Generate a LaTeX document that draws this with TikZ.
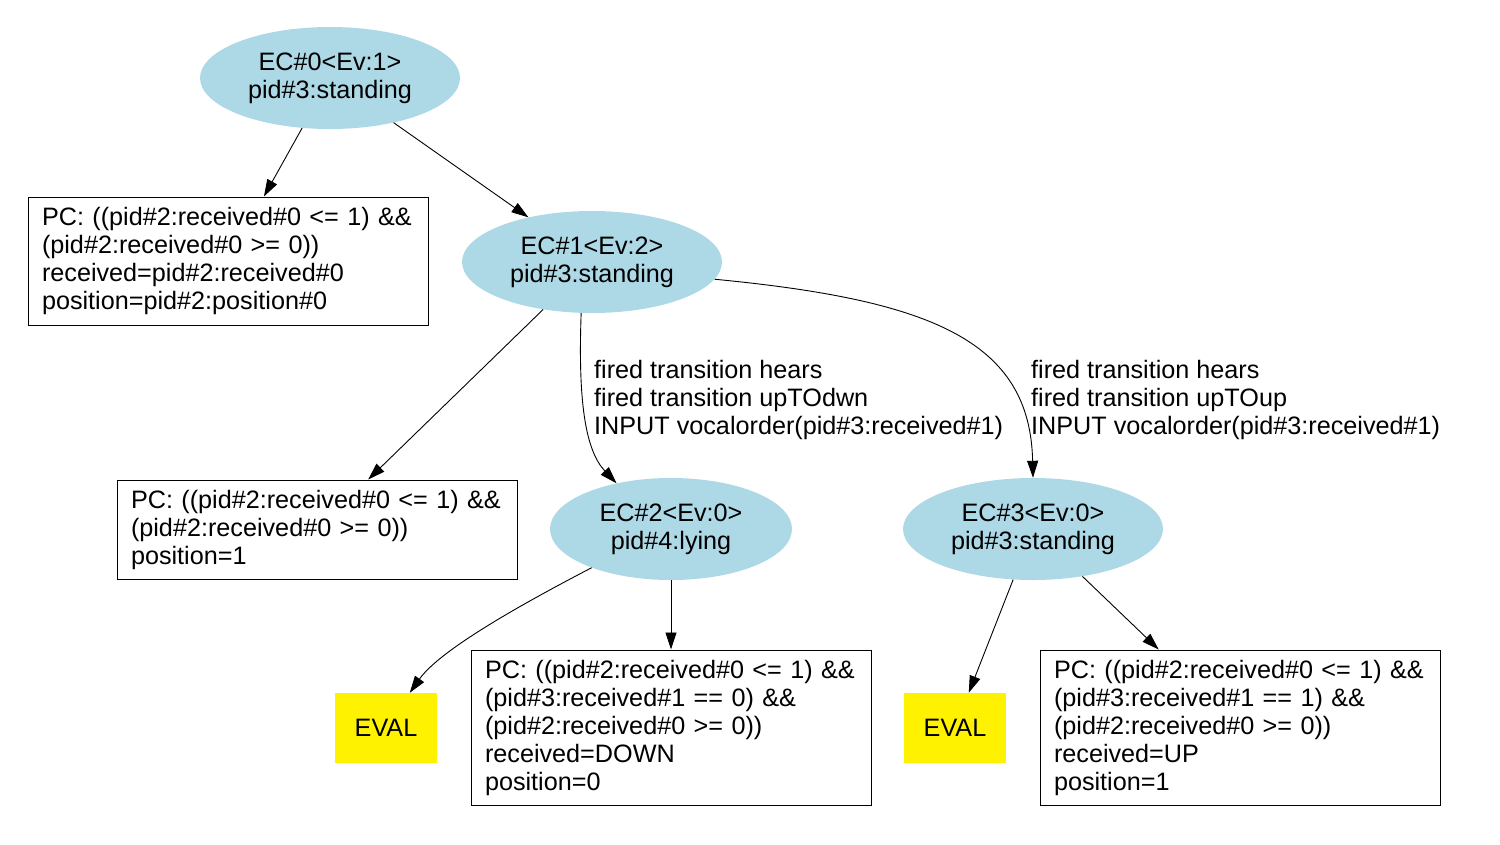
\documentclass[tikz,border=0pt]{standalone}
\usepackage{fontspec}
\setmainfont{Liberation Sans}
\usetikzlibrary{arrows.meta,shapes.geometric,positioning}
\definecolor{ecblue}{HTML}{ADD8E6}

\begin{document}
\begin{tikzpicture}[x=1pt, y=-1pt,
  every node/.style={font=\fontsize{25.2}{28}\selectfont},
  ecnode/.style={ellipse, fill=ecblue, minimum width=260pt, minimum height=102pt, inner sep=0pt, align=center},
  pcbox/.style={draw, line width=1pt, minimum width=400pt, text width=372pt, inner xsep=14pt, align=left},
  evalbox/.style={fill=yellow, minimum width=102pt, minimum height=70pt, inner sep=0pt},
  lbl/.style={anchor=west, inner sep=0pt, align=left},
  arr/.style={line width=0.9pt, -{Triangle[length=17pt, width=11pt]}}]
\useasboundingbox (0,0) rectangle (1500,844);
% states
\node[ecnode] (ec0) at (330,78) {EC\#0<Ev:1>\\pid\#3:standing};
\node[ecnode] (ec1) at (592,262) {EC\#1<Ev:2>\\pid\#3:standing};
\node[ecnode, minimum width=242pt] (ec2) at (671,529) {EC\#2<Ev:0>\\pid\#4:lying};
\node[ecnode] (ec3) at (1033,529) {EC\#3<Ev:0>\\pid\#3:standing};
% path conditions
\node[pcbox, minimum height=128pt] (pc0) at (228,261) {PC: ((pid\#2:received\#0 <= 1) \&\&\\(pid\#2:received\#0 >= 0))\\received=pid\#2:received\#0\\position=pid\#2:position\#0};
\node[pcbox, minimum height=99pt] (pc1) at (317,529.5) {PC: ((pid\#2:received\#0 <= 1) \&\&\\(pid\#2:received\#0 >= 0))\\position=1};
\node[pcbox, minimum height=155pt] (pc2) at (671,727.5) {PC: ((pid\#2:received\#0 <= 1) \&\&\\(pid\#3:received\#1 == 0) \&\&\\(pid\#2:received\#0 >= 0))\\received=DOWN\\position=0};
\node[pcbox, minimum height=155pt] (pc3) at (1240,727.5) {PC: ((pid\#2:received\#0 <= 1) \&\&\\(pid\#3:received\#1 == 1) \&\&\\(pid\#2:received\#0 >= 0))\\received=UP\\position=1};
\node[evalbox] (ev2) at (386,728) {EVAL};
\node[evalbox] (ev3) at (955,728) {EVAL};
% transition labels
\node[lbl] (l2) at (594,400) {fired transition hears\\fired transition upTOdwn\\INPUT vocalorder(pid\#3:received\#1)};
\node[lbl] (l3) at (1031,400) {fired transition hears\\fired transition upTOup\\INPUT vocalorder(pid\#3:received\#1)};
% edges
\draw[arr] (ec0) -- (pc0);
\draw[arr] (ec0) -- (ec1);
\draw[arr] (ec1) -- (pc1);
\draw[arr] (ec1.258) .. controls (578,400) and (585,450) .. (ec2.140);
\draw[arr] (ec1.352) .. controls (930,300) and (1030,340) .. (ec3.north);
\draw[arr] (ec2.206) .. controls (520,605) and (440,650) .. (ev2.56);
\draw[arr] (ec2) -- (pc2);
\draw[arr] (ec3) -- (ev3);
\draw[arr] (ec3) -- (pc3);
\end{tikzpicture}
\end{document}
